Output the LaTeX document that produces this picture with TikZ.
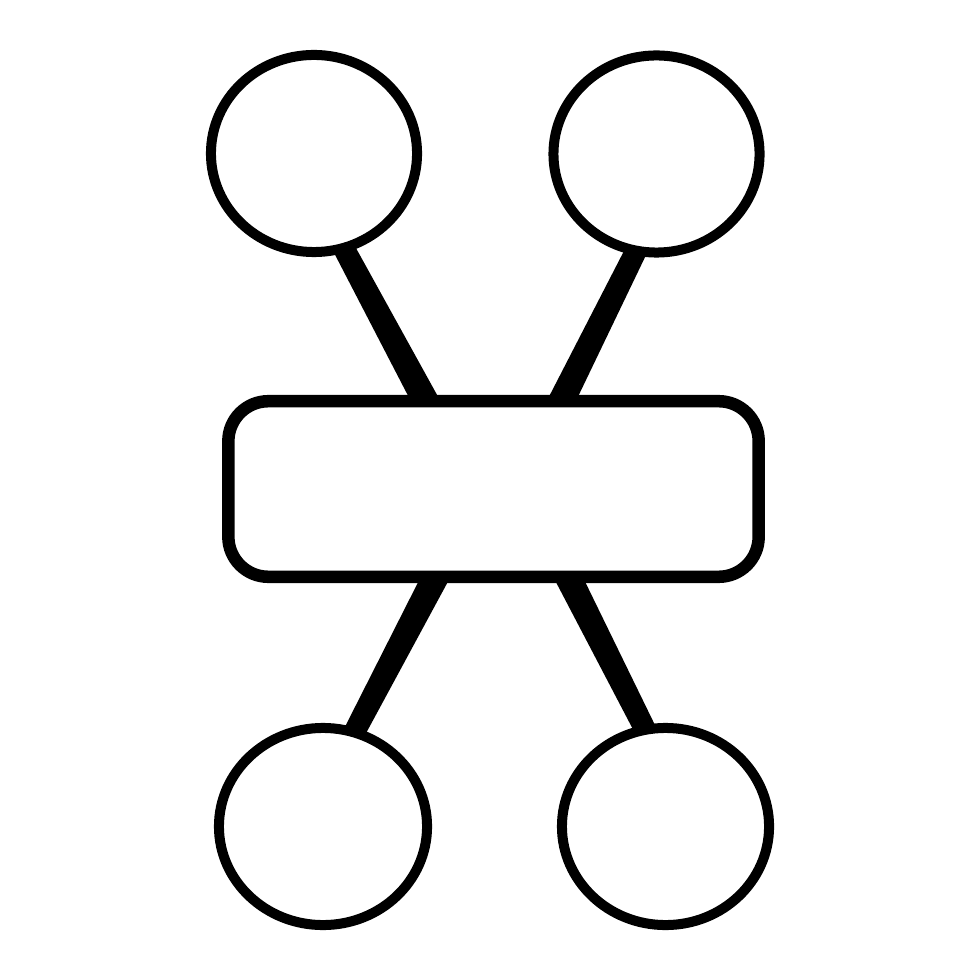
\documentclass[tikz,border=0pt]{standalone}
\usetikzlibrary{shapes.geometric,calc}
\newcommand\taperlink[2]{%
  \fill[black] ($(#1)!0.105cm!90:(#2)$) -- ($(#2)!0.135cm!-90:(#1)$) --
    ($(#2)!0.135cm!90:(#1)$) -- ($(#1)!0.105cm!-90:(#2)$) -- cycle;}
\begin{document}
\begin{tikzpicture}[x=0.01cm,y=-0.01cm,
  bubble/.style={ellipse,draw=black,fill=white,line width=0.1cm,inner sep=0pt,minimum width=2.06cm,minimum height=1.97cm},
  bar/.style={rectangle,draw=black,fill=white,line width=0.125cm,rounded corners=0.4cm,inner sep=0pt,minimum width=5.3cm,minimum height=1.755cm}]
\useasboundingbox (0,0) rectangle (980,980);
% connector end points
\coordinate (a1) at (334,230); \coordinate (a2) at (441,430);
\coordinate (b1) at (644,235); \coordinate (b2) at (547,430);
\coordinate (c2) at (447,555); \coordinate (c1) at (345,750);
\coordinate (d2) at (557,555); \coordinate (d1) at (653,745);
\taperlink{a1}{a2}
\taperlink{b1}{b2}
\taperlink{c1}{c2}
\taperlink{d1}{d2}
\node[bubble] (tl) at (314,153.5) {};
\node[bubble] (tr) at (656.5,154) {};
\node[bubble,minimum width=2.08cm] (bl) at (323,826.5) {};
\node[bubble,minimum width=2.07cm] (br) at (665.5,826.5) {};
\node[bar] (mid) at (493.5,489) {};
\end{tikzpicture}
\end{document}
